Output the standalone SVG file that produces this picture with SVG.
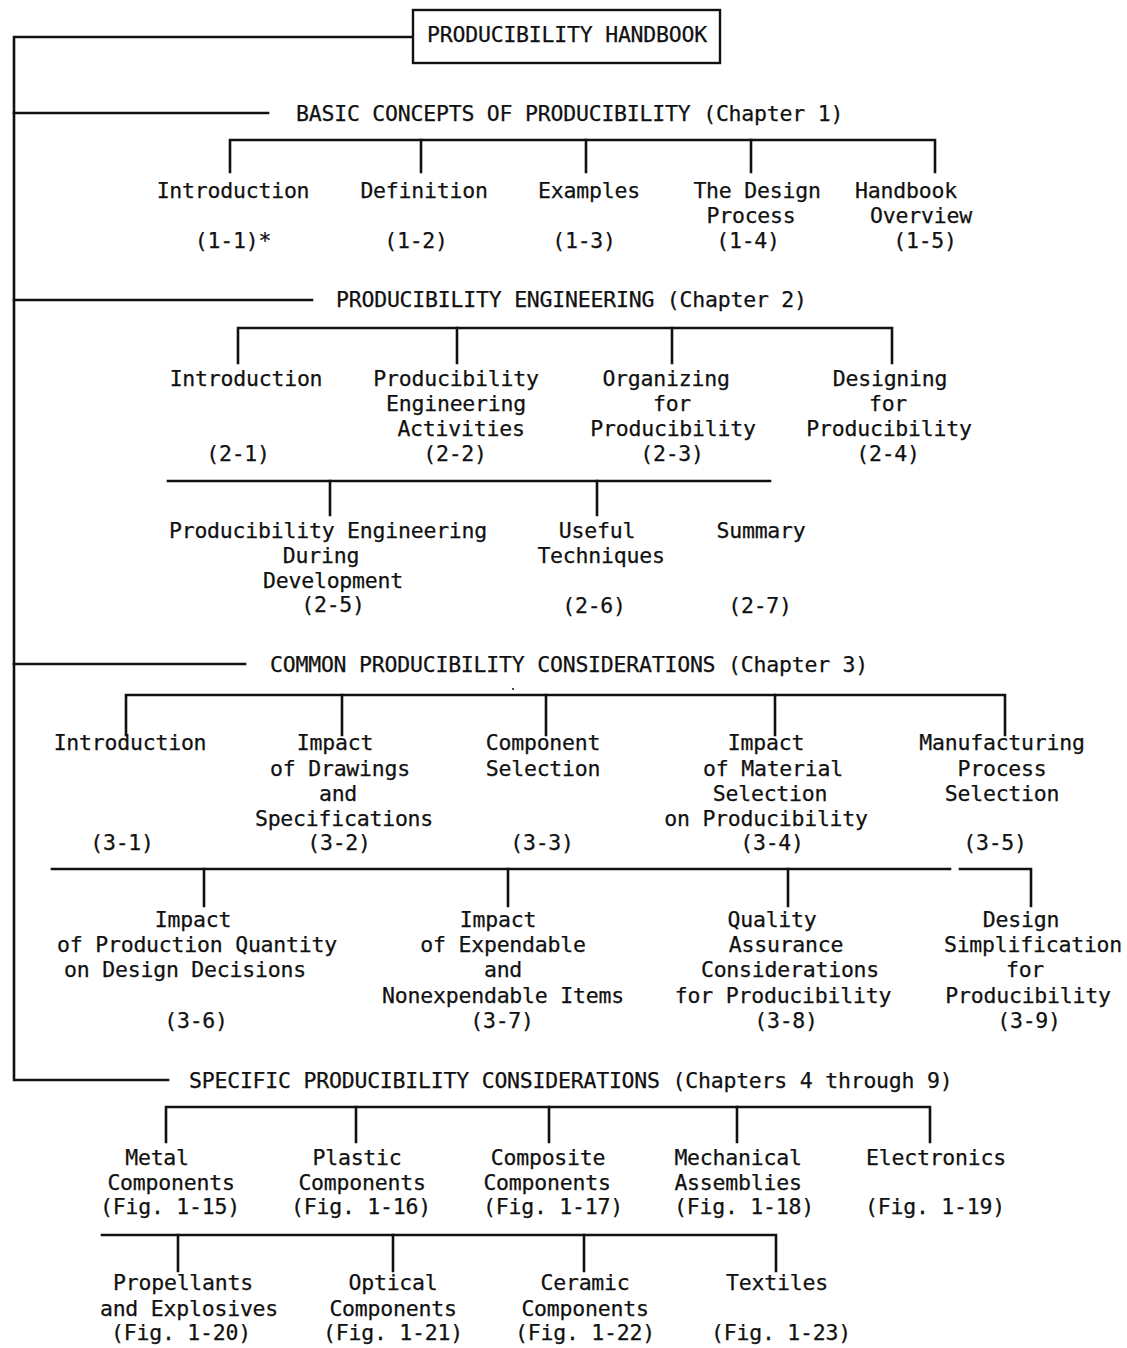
<svg xmlns="http://www.w3.org/2000/svg" width="1127" height="1348" viewBox="0 0 1127 1348">
  <style>
    text { font-family: "DejaVu Sans Mono", "Liberation Mono", monospace; font-size: 21.5px; letter-spacing: -0.22px; fill: #111; stroke: #111; stroke-width: 0.25; }
    .c { text-anchor: middle; }
    .ln { fill: none; stroke: #111; stroke-width: 2.6; stroke-linecap: square; }
    .box { fill: #fff; stroke: #111; stroke-width: 2.4; }
  </style>
  <rect width="1127" height="1348" fill="#fff"/>

  <!-- tree connectors -->
  <g id="connectors" class="ln">
    <!-- main trunk and chapter branches -->
    <path d="M413,37 H14 V1080 H168"/>
    <path d="M14,113 H268"/>
    <path d="M14,300 H312"/>
    <path d="M14,664 H245"/>
    <!-- chapter 1 -->
    <path d="M230,172 V140 H935 V172"/>
    <path d="M421,140 V172 M586,140 V172 M751,140 V172"/>
    <!-- chapter 2 -->
    <path d="M238,363 V328 H892 V363"/>
    <path d="M457,328 V363 M672,328 V363"/>
    <path d="M168,481 H770"/>
    <path d="M330,481 V515 M597,481 V515"/>
    <!-- chapter 3 -->
    <path d="M126,735 V695 H1005 V735"/>
    <path d="M342,695 V735 M546,695 V735 M775,695 V735"/>
    <path d="M52,869 H950"/>
    <path d="M960,869 H1031 V906"/>
    <path d="M204,869 V906 M508,869 V906 M788,869 V906"/>
    <!-- chapters 4 through 9 -->
    <path d="M166,1142 V1107 H930 V1142"/>
    <path d="M356,1107 V1142 M549,1107 V1142 M737,1107 V1142"/>
    <path d="M102,1235 H776 V1271"/>
    <path d="M178,1235 V1271 M393,1235 V1271 M584,1235 V1271"/>
  </g>
  <circle cx="513" cy="689" r="1" fill="#111"/>

  <!-- root -->
  <g id="root">
    <rect class="box" x="413" y="10" width="307" height="53"/>
    <text class="c" x="567" y="42">PRODUCIBILITY HANDBOOK</text>
  </g>

  <!-- chapter 1 -->
  <g id="ch1"><text x="296" y="121">BASIC CONCEPTS OF PRODUCIBILITY (Chapter 1)</text></g>
  <g id="n1-1"><text class="c" x="233" y="198">Introduction</text><text class="c" x="233" y="248">(1-1)*</text></g>
  <g id="n1-2"><text class="c" x="424" y="198">Definition</text><text class="c" x="416" y="248">(1-2)</text></g>
  <g id="n1-3"><text class="c" x="589" y="198">Examples</text><text class="c" x="584" y="248">(1-3)</text></g>
  <g id="n1-4"><text class="c" x="757" y="198">The Design</text><text class="c" x="751" y="223">Process</text><text class="c" x="748" y="248">(1-4)</text></g>
  <g id="n1-5"><text class="c" x="906" y="198">Handbook</text><text class="c" x="921" y="223">Overview</text><text class="c" x="925" y="248">(1-5)</text></g>

  <!-- chapter 2 -->
  <g id="ch2"><text x="336" y="307">PRODUCIBILITY ENGINEERING (Chapter 2)</text></g>
  <g id="n2-1"><text class="c" x="246" y="386">Introduction</text><text class="c" x="238" y="461">(2-1)</text></g>
  <g id="n2-2"><text class="c" x="456" y="386">Producibility</text><text class="c" x="456" y="411">Engineering</text><text class="c" x="461" y="436">Activities</text><text class="c" x="455" y="461">(2-2)</text></g>
  <g id="n2-3"><text class="c" x="666" y="386">Organizing</text><text class="c" x="672" y="411">for</text><text class="c" x="673" y="436">Producibility</text><text class="c" x="672" y="461">(2-3)</text></g>
  <g id="n2-4"><text class="c" x="890" y="386">Designing</text><text class="c" x="888" y="411">for</text><text class="c" x="889" y="436">Producibility</text><text class="c" x="888" y="461">(2-4)</text></g>
  <g id="n2-5"><text class="c" x="328" y="538">Producibility Engineering</text><text class="c" x="321" y="563">During</text><text class="c" x="333" y="588">Development</text><text class="c" x="333" y="612">(2-5)</text></g>
  <g id="n2-6"><text class="c" x="597" y="538">Useful</text><text class="c" x="601" y="563">Techniques</text><text class="c" x="594" y="613">(2-6)</text></g>
  <g id="n2-7"><text class="c" x="761" y="538">Summary</text><text class="c" x="760" y="613">(2-7)</text></g>

  <!-- chapter 3 -->
  <g id="ch3"><text x="270" y="672">COMMON PRODUCIBILITY CONSIDERATIONS (Chapter 3)</text></g>
  <g id="n3-1"><text class="c" x="130" y="750">Introduction</text><text class="c" x="122" y="850">(3-1)</text></g>
  <g id="n3-2"><text class="c" x="335" y="750">Impact</text><text class="c" x="340" y="776">of Drawings</text><text class="c" x="338" y="801">and</text><text class="c" x="344" y="826">Specifications</text><text class="c" x="339" y="850">(3-2)</text></g>
  <g id="n3-3"><text class="c" x="543" y="750">Component</text><text class="c" x="543" y="776">Selection</text><text class="c" x="542" y="850">(3-3)</text></g>
  <g id="n3-4"><text class="c" x="766" y="750">Impact</text><text class="c" x="773" y="776">of Material</text><text class="c" x="770" y="801">Selection</text><text class="c" x="766" y="826">on Producibility</text><text class="c" x="772" y="850">(3-4)</text></g>
  <g id="n3-5"><text class="c" x="1002" y="750">Manufacturing</text><text class="c" x="1002" y="776">Process</text><text class="c" x="1002" y="801">Selection</text><text class="c" x="995" y="850">(3-5)</text></g>
  <g id="n3-6"><text class="c" x="193" y="927">Impact</text><text class="c" x="197" y="952">of Production Quantity</text><text class="c" x="185" y="977">on Design Decisions</text><text class="c" x="196" y="1028">(3-6)</text></g>
  <g id="n3-7"><text class="c" x="498" y="927">Impact</text><text class="c" x="503" y="952">of Expendable</text><text class="c" x="503" y="977">and</text><text class="c" x="503" y="1003">Nonexpendable Items</text><text class="c" x="502" y="1028">(3-7)</text></g>
  <g id="n3-8"><text class="c" x="772" y="927">Quality</text><text class="c" x="786" y="952">Assurance</text><text class="c" x="790" y="977">Considerations</text><text class="c" x="783" y="1003">for Producibility</text><text class="c" x="786" y="1028">(3-8)</text></g>
  <g id="n3-9"><text class="c" x="1021" y="927">Design</text><text class="c" x="1033" y="952">Simplification</text><text class="c" x="1025" y="977">for</text><text class="c" x="1028" y="1003">Producibility</text><text class="c" x="1029" y="1028">(3-9)</text></g>

  <!-- chapters 4 through 9 -->
  <g id="ch4-9"><text x="189" y="1088">SPECIFIC PRODUCIBILITY CONSIDERATIONS (Chapters 4 through 9)</text></g>
  <g id="f1-15"><text class="c" x="157" y="1165">Metal</text><text class="c" x="171" y="1190">Components</text><text class="c" x="170" y="1214">(Fig. 1-15)</text></g>
  <g id="f1-16"><text class="c" x="357" y="1165">Plastic</text><text class="c" x="362" y="1190">Components</text><text class="c" x="361" y="1214">(Fig. 1-16)</text></g>
  <g id="f1-17"><text class="c" x="548" y="1165">Composite</text><text class="c" x="547" y="1190">Components</text><text class="c" x="553" y="1214">(Fig. 1-17)</text></g>
  <g id="f1-18"><text class="c" x="738" y="1165">Mechanical</text><text class="c" x="738" y="1190">Assemblies</text><text class="c" x="744" y="1214">(Fig. 1-18)</text></g>
  <g id="f1-19"><text class="c" x="936" y="1165">Electronics</text><text class="c" x="935" y="1214">(Fig. 1-19)</text></g>
  <g id="f1-20"><text class="c" x="183" y="1290">Propellants</text><text class="c" x="189" y="1316">and Explosives</text><text class="c" x="181" y="1340">(Fig. 1-20)</text></g>
  <g id="f1-21"><text class="c" x="393" y="1290">Optical</text><text class="c" x="393" y="1316">Components</text><text class="c" x="393" y="1340">(Fig. 1-21)</text></g>
  <g id="f1-22"><text class="c" x="585" y="1290">Ceramic</text><text class="c" x="585" y="1316">Components</text><text class="c" x="585" y="1340">(Fig. 1-22)</text></g>
  <g id="f1-23"><text class="c" x="777" y="1290">Textiles</text><text class="c" x="781" y="1340">(Fig. 1-23)</text></g>
</svg>
